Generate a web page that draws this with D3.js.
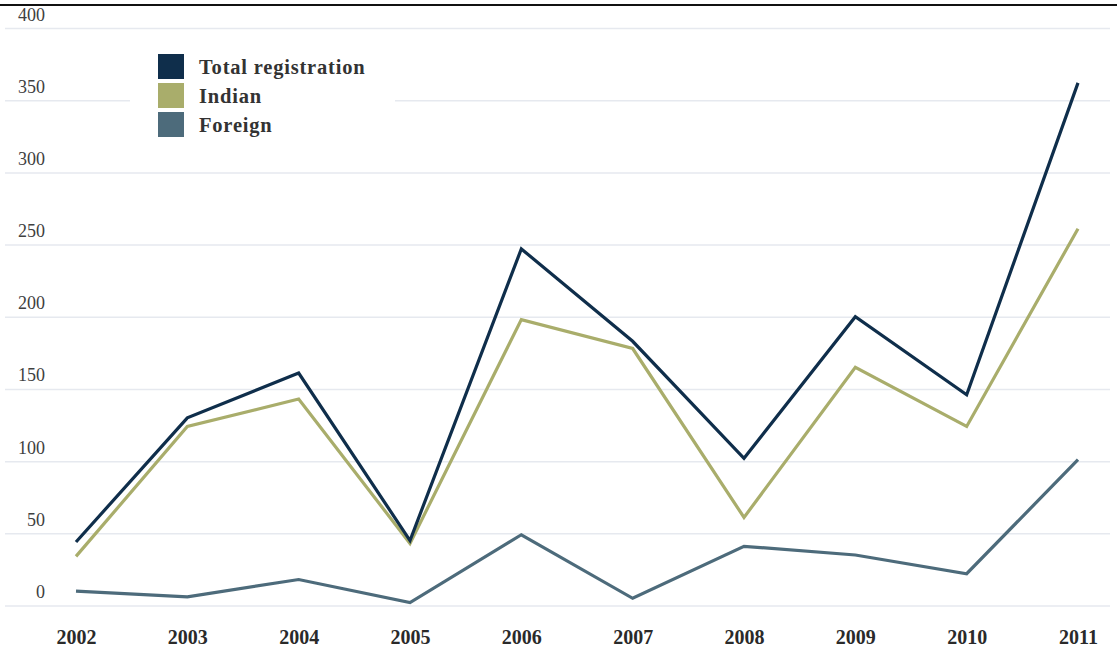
<!DOCTYPE html>
<html>
<head>
<meta charset="utf-8">
<script src="https://cdn.jsdelivr.net/npm/d3@7"></script>
<style>
  html, body { margin: 0; padding: 0; background: #fff; }
  svg { display: block; }
  .ytick text { font-family: "Liberation Serif", "DejaVu Serif", serif; font-size: 18px; fill: #404040; }
  .xtick text { font-family: "Liberation Serif", "DejaVu Serif", serif; font-size: 20px; font-weight: bold; fill: #2a2a2a; }
  .legend text { font-family: "Liberation Serif", "DejaVu Serif", serif; font-size: 20.5px; font-weight: bold; letter-spacing: 0.8px; fill: #333; }
</style>
</head>
<body>
<script>
// Registrations per year, 2002–2011
const years = ["2002", "2003", "2004", "2005", "2006", "2007", "2008", "2009", "2010", "2011"];
const totalRegistration = [44, 130, 161, 45, 247, 183, 102, 200, 146, 362];
const indian = [34, 124, 143, 43, 198, 178, 61, 165, 124, 261];
const foreign = [10, 6, 18, 2, 49, 5, 41, 35, 22, 101];
const yTicks = [0, 50, 100, 150, 200, 250, 300, 350, 400];

const seriesNames = ["Total registration", "Indian", "Foreign"];
const seriesColors = ["#0f2e4b", "#a9ad6b", "#4d6b7b"];

const W = 1117, H = 653;
const svg = d3.select("body").append("svg").attr("width", W).attr("height", H);

const x = d3.scalePoint().domain(years).range([76, 1078]);
const y = d3.scaleLinear().domain([0, 400]).range([605.5, 28]);

// top rule
svg.append("line")
  .attr("x1", 0).attr("x2", W).attr("y1", 5).attr("y2", 5)
  .attr("stroke", "#111").attr("stroke-width", 2);

// horizontal gridlines with value labels sitting above each line
const yAxis = svg.append("g")
  .attr("transform", "translate(5,0)")
  .call(d3.axisRight(y).tickValues(yTicks).tickSize(1105).tickFormat(d3.format("d")));
yAxis.select(".domain").remove();
yAxis.selectAll(".tick").attr("class", "tick ytick");
yAxis.selectAll(".tick line").attr("stroke", "#e6e9ef").attr("stroke-width", 1.5);
yAxis.selectAll(".tick text")
  .attr("x", 40).attr("dy", -8)
  .attr("text-anchor", "end");

// year labels along the bottom
const xAxis = svg.append("g")
  .attr("transform", "translate(0,630)")
  .call(d3.axisBottom(x).tickSize(0));
xAxis.select(".domain").remove();
xAxis.selectAll(".tick").attr("class", "tick xtick");
xAxis.selectAll(".tick text").attr("dy", "0.71em").attr("y", 0);

// series lines
const seriesData = [totalRegistration, indian, foreign];
const line = d3.line().x((d, i) => x(years[i])).y(d => y(d));

// draw foreign first, then indian, then total on top
[2, 1, 0].forEach(k => {
  svg.append("path")
    .datum(seriesData[k])
    .attr("fill", "none")
    .attr("stroke", seriesColors[k])
    .attr("stroke-width", 3.2)
    .attr("stroke-linejoin", "miter")
    .attr("d", line);
});

// legend, on a white panel that breaks the gridline behind it
const legend = svg.append("g").attr("class", "legend");
legend.append("rect")
  .attr("x", 130).attr("y", 45).attr("width", 265).attr("height", 95)
  .attr("fill", "#fff");
const legendTop = [54, 83, 112];
seriesNames.forEach((name, i) => {
  legend.append("rect")
    .attr("x", 158).attr("y", legendTop[i])
    .attr("width", 26).attr("height", 25)
    .attr("fill", seriesColors[i]);
  legend.append("text")
    .attr("x", 199).attr("y", legendTop[i] + 20)
    .text(name);
});
</script>
</body>
</html>
